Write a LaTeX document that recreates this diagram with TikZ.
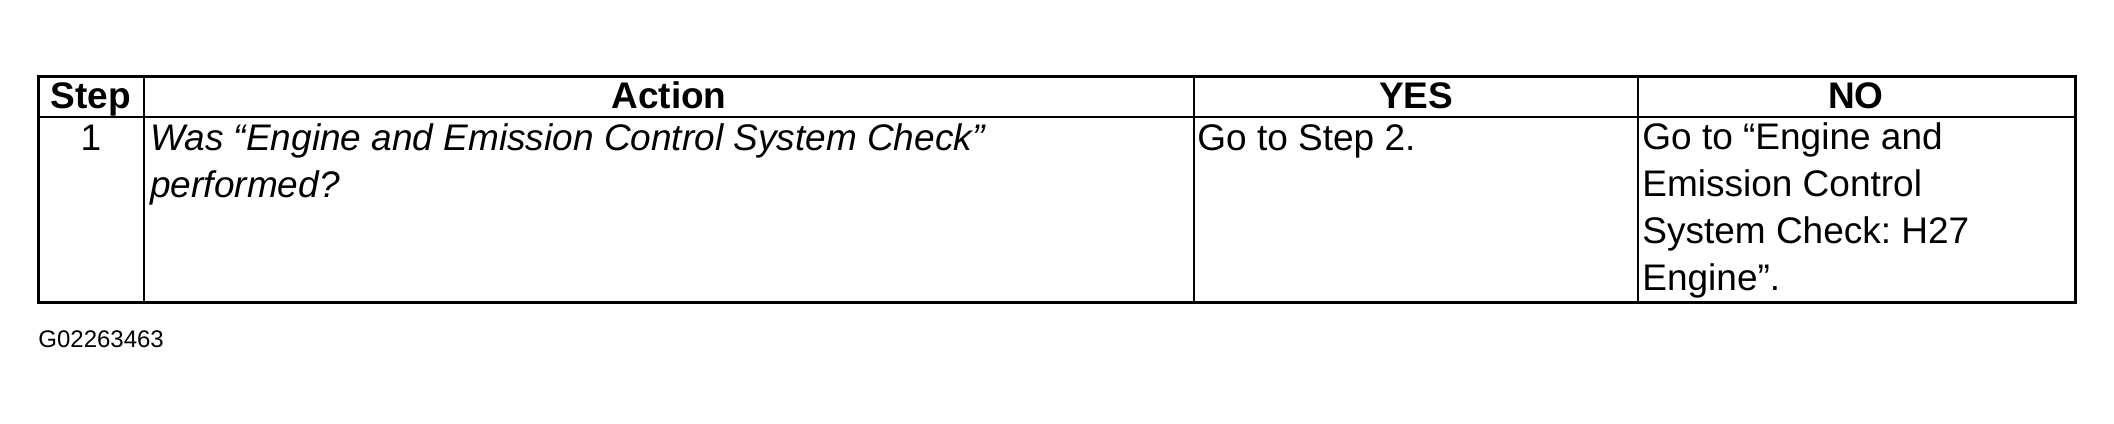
\documentclass[tikz,border=0pt]{standalone}
\usepackage{fontspec}
\setmainfont{Liberation Sans}
\frenchspacing
\begin{document}
\begin{tikzpicture}[x=0.5pt, y=-0.5pt,
    headcell/.style={anchor=base, inner sep=0pt, font=\fontsize{18.5}{23.35}\selectfont\bfseries},
    bodycell/.style={anchor=base west, inner sep=0pt, align=left, font=\fontsize{18.5}{23.35}\selectfont}]
    \useasboundingbox (0,0) rectangle (2114,423);
    % table frame and rules
    \draw[line width=1.5pt] (38,76) rectangle (2075,302);
    \draw[line width=1pt] (38,117) -- (2075,117);
    \foreach \x in {144,1194,1638}
        \draw[line width=1pt] (\x,76) -- (\x,302);

    % header row
    \node (hstep) [headcell] at (91,108) {Step};
    \node (haction) [headcell] at (669,108) {Action};
    \node (hyes) [headcell] at (1416,108) {YES};
    \node (hno) [headcell] at (1856,108) {NO};

    % step 1 (multi-line cells sit on their last baseline)
    \node (step1) [bodycell, anchor=base] at (91,150) {1};
    \node (action1) [bodycell, font=\fontsize{18.5}{23.35}\selectfont\itshape] at (150,197) {Was “Engine and Emission Control System Check”\\performed?};
    \node (yes1) [bodycell] at (1197,150) {Go to Step 2.};
    \node (no1) [bodycell] at (1642,290) {Go to “Engine and\\Emission Control\\System Check: H27\\Engine”.};

    \node (figid) [anchor=base west, inner sep=0pt, font=\fontsize{12}{14}\selectfont] at (38,347) {G02263463};
\end{tikzpicture}
\end{document}
